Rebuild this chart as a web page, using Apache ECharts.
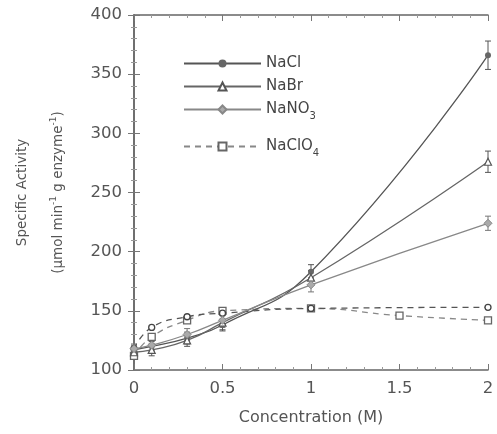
<!DOCTYPE html>
<html><head><meta charset="utf-8">
<script src="https://cdn.jsdelivr.net/npm/echarts@6/dist/echarts.min.js"></script>
<style>html,body{margin:0;padding:0;background:#fff}#c{width:497px;height:434px}</style>
</head><body><div id="c"></div>
<script>
const xNaCl   = [0, 0.1, 0.3, 0.5, 1, 2];
const yNaCl   = [117, 120, 127, 138, 183, 366];
const eNaCl   = [4, 4, 5, 5, 6, 12];
const xNaBr   = [0, 0.1, 0.3, 0.5, 1, 2];
const yNaBr   = [115, 117, 125, 140, 178, 276];
const eNaBr   = [4, 5, 5, 6, 6, 9];
const xNaNO3  = [0, 0.1, 0.3, 0.5, 1, 2];
const yNaNO3  = [118, 121, 130, 142, 172, 224];
const eNaNO3  = [4, 5, 5, 6, 6, 6];
const xNaClO4 = [0, 0.1, 0.3, 0.5, 1, 1.5, 2];
const yNaClO4 = [112, 128, 142, 150, 152, 146, 142];
const xOther  = [0, 0.1, 0.3, 0.5, 1, 2];
const yOther  = [118, 136, 145, 148, 152, 153];
const names = ['NaCl', 'NaBr', 'NaNO3', 'NaClO4'];
const xTicks = [0, 0.5, 1, 1.5, 2];
const yTicks = [100, 150, 200, 250, 300, 350, 400];

const zip = (xs, ys) => xs.map((x, i) => [x, ys[i]]);
const errData = (xs, ys, es) => xs.map((x, i) => [x, ys[i] - es[i], ys[i] + es[i]]);
const errSeries = (xs, ys, es, color) => ({
  type: 'custom', silent: true, z: 1,
  data: errData(xs, ys, es),
  renderItem: (params, api) => {
    const lo = api.coord([api.value(0), api.value(1)]);
    const hi = api.coord([api.value(0), api.value(2)]);
    const w = 3;
    const st = { stroke: color, lineWidth: 1 };
    return { type: 'group', children: [
      { type: 'line', shape: { x1: lo[0], y1: lo[1], x2: hi[0], y2: hi[1] }, style: st },
      { type: 'line', shape: { x1: lo[0]-w, y1: lo[1], x2: lo[0]+w, y2: lo[1] }, style: st },
      { type: 'line', shape: { x1: hi[0]-w, y1: hi[1], x2: hi[0]+w, y2: hi[1] }, style: st }
    ]};
  }
});

const txt = '#555';
const FF = 'DejaVu Sans';
const axisCommon = {
  axisLine: { lineStyle: { color: '#666', width: 1.5 } },
  axisTick: { inside: true, length: 6, lineStyle: { color: '#777' } },
  minorTick: { show: true, splitNumber: 5, length: 3, lineStyle: { color: '#999' } },
  splitLine: { show: false }
};
const legendCommon = {
  orient: 'vertical', left: 178,
  itemWidth: 77, itemHeight: 10, itemGap: 8,
  textStyle: { fontFamily: FF, fontSize: 15, color: '#444',
    rich: { s: { fontFamily: FF, fontSize: 10, color: '#444', padding: [14, 0, 0, 0] } } },
  formatter: n => n.replace(/(\d)/g, '{s|$1}')
};
const chart = echarts.init(document.getElementById('c'));
chart.setOption({
  animation: false,
  backgroundColor: '#fff',
  grid: { left: 134, right: 9, top: 15, bottom: 64, outerBoundsMode: 'none', containLabel: false },
  legend: [
    Object.assign({ data: names.slice(0, 3), top: 51 }, legendCommon),
    Object.assign({ data: names.slice(3), top: 134 }, legendCommon)
  ],
  xAxis: [
    Object.assign({ type: 'value', min: 0, max: 2, interval: 0.5,
      name: 'Concentration (M)', nameLocation: 'middle', nameGap: 40,
      nameTextStyle: { fontFamily: FF, fontSize: 16, color: txt },
      axisLabel: { fontFamily: FF, fontSize: 16.5, color: txt, margin: 10,
        formatter: v => xTicks.includes(v) ? String(v) : '' } }, axisCommon),
    Object.assign({ type: 'value', min: 0, max: 2, interval: 0.5, position: 'top',
      axisLabel: { show: false } }, axisCommon)
  ],
  yAxis: [
    Object.assign({ type: 'value', min: 100, max: 400, interval: 50,
      name: 'Specific Activity\n(µmol min{sup|-1} g enzyme{sup|-1})',
      nameLocation: 'middle', nameGap: 58, nameRotate: 90,
      nameTextStyle: { fontFamily: FF, fontSize: 13.5, color: txt, lineHeight: 36,
        rich: { sup: { fontFamily: FF, fontSize: 9, color: txt, padding: [0, 0, 8, 0] } } },
      axisLabel: { fontFamily: FF, fontSize: 16.5, color: txt, margin: 12,
        formatter: v => yTicks.includes(v) ? String(v) : '' } }, axisCommon),
    Object.assign({ type: 'value', min: 100, max: 400, interval: 50, position: 'right',
      axisLabel: { show: false } }, axisCommon)
  ],
  series: [
    { name: 'NaCl', type: 'line', smooth: true, data: zip(xNaCl, yNaCl),
      symbol: 'circle', symbolSize: 6, color: '#555',
      lineStyle: { color: '#555', width: 1.3 }, itemStyle: { color: '#666' }, z: 5 },
    { name: 'NaBr', type: 'line', smooth: true, data: zip(xNaBr, yNaBr),
      symbol: 'triangle', symbolSize: 7, color: '#777',
      lineStyle: { color: '#666', width: 1.3 }, itemStyle: { color: '#fff', borderColor: '#555', borderWidth: 1.2 }, z: 5 },
    { name: 'NaNO3', type: 'line', smooth: true, data: zip(xNaNO3, yNaNO3),
      symbol: 'diamond', symbolSize: 8, color: '#999',
      lineStyle: { color: '#888', width: 1.3 }, itemStyle: { color: '#aaa', borderColor: '#888', borderWidth: 1 }, z: 5 },
    { name: 'NaClO4', type: 'line', smooth: true, data: zip(xNaClO4, yNaClO4),
      symbol: 'rect', symbolSize: 7, color: '#777',
      lineStyle: { color: '#888', width: 1.3, type: [6, 5] }, itemStyle: { color: '#fff', borderColor: '#666', borderWidth: 1.3 }, z: 4 },
    { name: 'other', type: 'line', smooth: true, data: zip(xOther, yOther),
      symbol: 'circle', symbolSize: 6,
      lineStyle: { color: '#555', width: 1.3, type: [6, 5] }, itemStyle: { color: '#fff', borderColor: '#444', borderWidth: 1.3 }, z: 4 },
    errSeries(xNaCl, yNaCl, eNaCl, '#555'),
    errSeries(xNaBr, yNaBr, eNaBr, '#555'),
    errSeries(xNaNO3, yNaNO3, eNaNO3, '#777')
  ]
});
</script></body></html>
